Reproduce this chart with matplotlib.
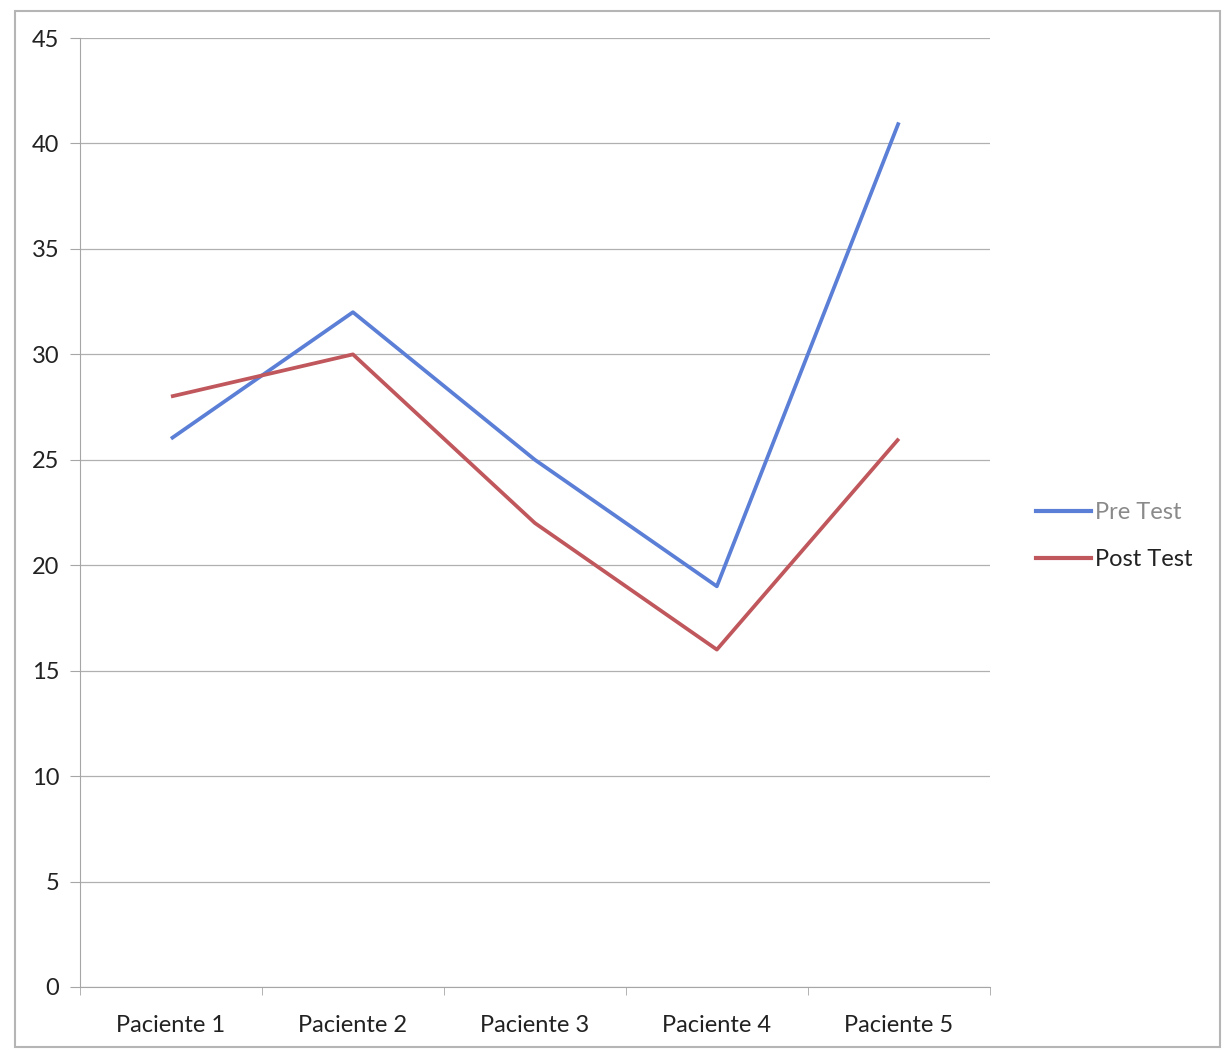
import matplotlib
matplotlib.use("Agg")
import matplotlib.pyplot as plt
from matplotlib.patches import Rectangle
from matplotlib.lines import Line2D

categories = ["Paciente 1", "Paciente 2", "Paciente 3", "Paciente 4", "Paciente 5"]
pre_test = [26, 32, 25, 19, 41]
post_test = [28, 30, 22, 16, 26]
y_ticks = [0, 5, 10, 15, 20, 25, 30, 35, 40, 45]

plt.rcParams['font.family'] = ['Lato', 'DejaVu Sans']

fig = plt.figure(figsize=(12.25, 10.51), dpi=100)
fig.patch.set_facecolor("white")

# chart frame
fig.add_artist(Rectangle((0.012, 0.004), 0.984, 0.986, transform=fig.transFigure,
                         fill=False, edgecolor="#b5b5b5", linewidth=1.5))

ax = fig.add_axes([0.0653, 0.0609, 0.7427, 0.9029])
x = list(range(len(categories)))
ax.plot(x, pre_test, color="#5b7fd6", linewidth=2.7, label="Pre Test", solid_capstyle="butt")
ax.plot(x, post_test, color="#c0575c", linewidth=2.7, label="Post Test", solid_capstyle="butt")

ax.set_xlim(-0.5, len(categories) - 0.5)
ax.set_ylim(0, 45)
ax.set_yticks(y_ticks)
ax.set_xticks(x)
ax.set_xticklabels(categories)
ax.set_xticks([i + 0.5 for i in range(-1, len(categories))], minor=True)

ax.grid(axis="y", color="#b0b0b0", linewidth=0.9)
ax.set_axisbelow(True)
for side in ["top", "right"]:
    ax.spines[side].set_visible(False)
ax.spines["left"].set_color("#a6a6a6")
ax.spines["bottom"].set_color("#a6a6a6")
ax.tick_params(axis="y", length=7, color="#a6a6a6", labelsize=17, labelcolor="#222222", pad=8)
ax.tick_params(axis="x", which="major", length=0, labelsize=17, labelcolor="#222222", pad=20)
ax.tick_params(axis="x", which="minor", length=6, color="#a6a6a6")

handles = [Line2D([0], [0], color="#5b7fd6", linewidth=3),
           Line2D([0], [0], color="#c0575c", linewidth=3)]
leg = fig.legend(handles, ["Pre Test", "Post Test"], loc="center left",
                 bbox_to_anchor=(0.828, 0.490), frameon=False, fontsize=17,
                 handlelength=2.35, handletextpad=0.15, labelspacing=1.1)
texts = leg.get_texts()
texts[0].set_color("#8a8a8a")
texts[1].set_color("#222222")

fig.savefig("out.png", dpi=100, facecolor="white")
